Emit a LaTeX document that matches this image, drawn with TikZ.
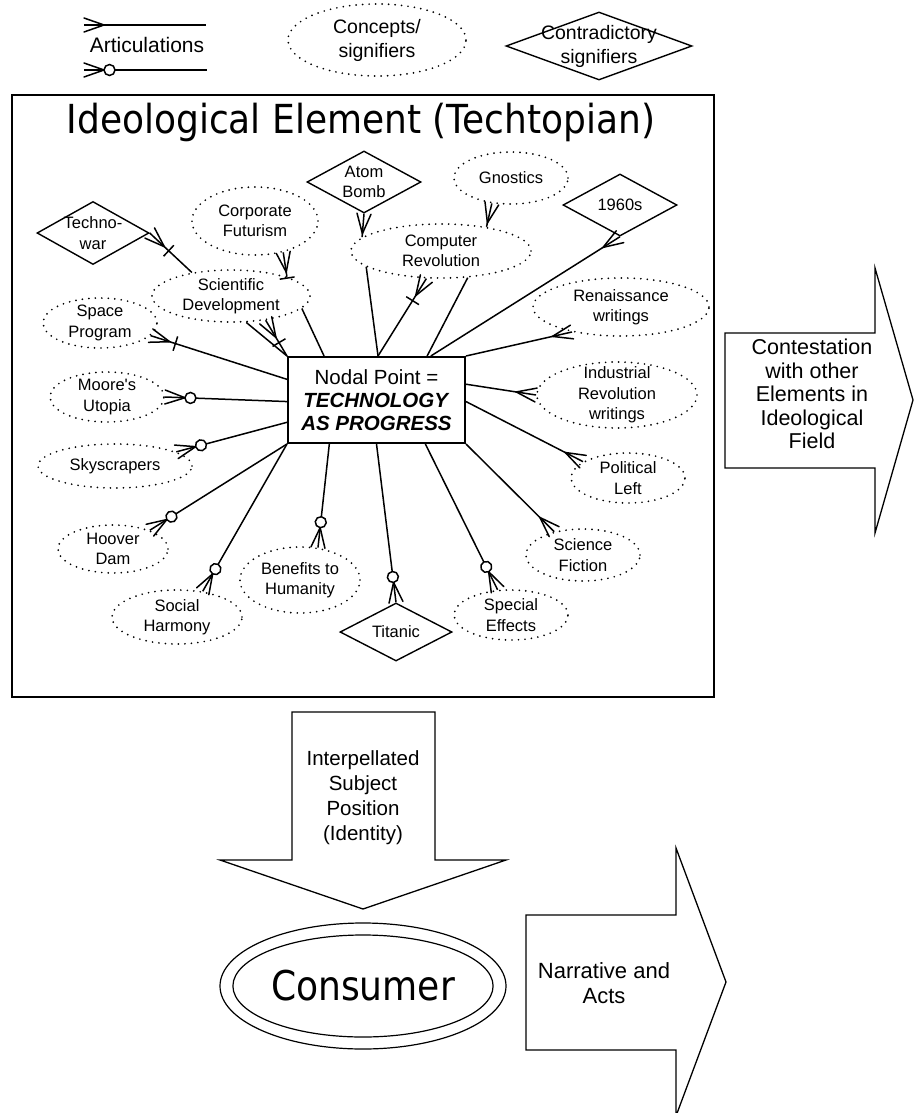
\documentclass[tikz,border=0pt]{standalone}
\usepackage{fontspec}
\setmainfont{Liberation Sans}
\newfontfamily\verafont{DejaVu Sans}
\usepackage{graphicx}
\usetikzlibrary{shapes, decorations.markings}

\tikzset{
  crow/.style={postaction={decorate, decoration={markings, mark=at position 0.0001 with {\draw[line cap=round] (0pt,7pt) -- (20pt,0pt) -- (0pt,-7pt);}}}},
  crowbar/.style={crow, postaction={decorate, decoration={markings, mark=at position 0.0001 with {\draw (26pt,7.5pt) -- (26pt,-7.5pt);}}}},
  crowring/.style={crow, postaction={decorate, decoration={markings, mark=at position 0.0001 with {\draw[fill=white] (25.5pt,0pt) circle (5.5pt);}}}},
}

\begin{document}
\begin{tikzpicture}[x=1pt, y=-1pt, line width=1.5pt]
\tikzstyle{concept}=[draw, ellipse, inner sep=0pt, line width=1.9pt, dash pattern=on 0pt off 6.5pt, line cap=round]
\tikzstyle{contra}=[draw, diamond, inner sep=0pt, line width=1.4pt]
\tikzstyle{lbl}=[align=center, font=\fontsize{16.5}{20.5}\selectfont]
\tikzstyle{leg}=[align=center, font=\fontsize{19.5}{24}\selectfont]
\tikzstyle{blocktext}=[align=center, font=\fontsize{21.5}{23.5}\selectfont]
\useasboundingbox (0,0) rectangle (914,1113);

% legend
\coordinate (arA1) at (84,25);
\coordinate (arB1) at (206,25);
\coordinate (arA2) at (84,70);
\coordinate (arB2) at (207,70);
\draw[crow] (arA1) -- (arB1);
\draw[crowring] (arA2) -- (arB2);
\node[font=\fontsize{21}{24}\selectfont] (artl) at (147,45) {Articulations};
\node[concept, minimum width=178, minimum height=72, label={[leg]center:Concepts/\\signifiers}] (legc) at (377,40) {};
\node[contra, minimum width=186, minimum height=68, label={[leg]center:Contradictory\\signifiers}] (legd) at (599,46) {};

% the element
\node[draw, minimum width=702, minimum height=602, inner sep=0pt] (frame) at (363,396) {};
\node (title) at (361,122) {\scalebox{0.9}[1]{\verafont\fontsize{40}{48}\selectfont Ideological Element (Techtopian)}};
\node[draw, line width=2pt, minimum width=177, minimum height=86, inner sep=0pt, align=center, font=\fontsize{20.5}{23.3}\selectfont] (nodal) at (376.5,400) {Nodal Point =\\\textbf{\textit{TECHNOLOGY}}\\\textbf{\textit{AS PROGRESS}}};

\node[contra, minimum width=112, minimum height=63, label={[lbl]center:Techno-\\war}] (tw) at (93,233) {};
\node[concept, minimum width=126, minimum height=68, label={[lbl]center:Corporate\\Futurism}] (cf) at (255,221) {};
\node[contra, minimum width=114, minimum height=62, label={[lbl]center:Atom\\Bomb}] (ab) at (364,182) {};
\node[concept, minimum width=114, minimum height=52, label={[lbl]center:Gnostics}] (gn) at (511,178) {};
\node[contra, minimum width=114, minimum height=62, label={[lbl]center:1960s}] (s60) at (620,205) {};
\node[concept, minimum width=180, minimum height=54, label={[lbl]center:Computer\\Revolution}] (cr) at (441,251) {};
\node[concept, minimum width=158, minimum height=52, label={[lbl]center:Scientific\\Development}] (sd) at (231,296) {};
\node[concept, minimum width=114, minimum height=50, label={[lbl]center:Space\\Program}] (sp) at (100,323) {};
\node[concept, minimum width=176, minimum height=58, label={[lbl]center:Renaissance\\writings}] (ren) at (621,307) {};
\node[concept, minimum width=114, minimum height=50, label={[lbl]center:Moore\textquotesingle s\\Utopia}] (mu) at (107,397) {};
\node[concept, minimum width=160, minimum height=66, label={[lbl]center:Industrial\\Revolution\\writings}] (ir) at (617,395) {};
\node[concept, minimum width=154, minimum height=44, label={[lbl]center:Skyscrapers}] (sk) at (115,466) {};
\node[concept, minimum width=114, minimum height=50, label={[lbl]center:Political\\Left}] (pl) at (628,478) {};
\node[concept, minimum width=110, minimum height=48, label={[lbl]center:Hoover\\Dam}] (hd) at (113,549) {};
\node[concept, minimum width=120, minimum height=66, label={[lbl]center:Benefits to\\Humanity}] (bh) at (300,580) {};
\node[concept, minimum width=114, minimum height=52, label={[lbl]center:Science\\Fiction}] (sf) at (583,555) {};
\node[concept, minimum width=130, minimum height=54, label={[lbl]center:Social\\Harmony}] (sh) at (177,617) {};
\node[contra, minimum width=112, minimum height=58, label={[lbl]center:Titanic}] (ti) at (396,632) {};
\node[concept, minimum width=114, minimum height=50, label={[lbl]center:Special\\Effects}] (se) at (511,615) {};

% articulations
\draw[crowbar] (tw.east) -- (sd.149);
\draw[crowbar] (cf.312) -- (sd.19);
\draw[crowbar] (sp.346) -- (nodal.167);
\draw[crowbar] (sd.325) -- (nodal.north west);
\draw (sd.300) -- (nodal.north west);
\draw (sd.350) -- (nodal.140);
\draw[crow] (ab.south) -- (cr.170);
\draw[crow] (gn.233) -- (cr.28);
\draw[crow] (s60.south) -- (nodal.39);
\draw[crow] (ren.207) -- (nodal.north east);
\draw[crowbar] (cr.242) -- (nodal.88);
\draw (cr.192) -- (nodal.88);
\draw (cr.315) -- (nodal.41);
\draw[crowring] (mu.east) -- (nodal.181);
\draw[crowring] (sk.13) -- (nodal.194);
\draw[crowring] (hd.27) -- (nodal.south west);
\draw[crowring] (sh.45) -- (nodal.south west);
\draw[crowring] (bh.61) -- (nodal.223);
\draw[crowring] (ti.north) -- (nodal.south);
\draw[crowring] (se.118) -- (nodal.318);
\draw[crow] (sf.141) -- (nodal.south east);
\draw[crow] (pl.160) -- (nodal.359);
\draw[crow] (ir.west) -- (nodal.10);

% block arrows
\draw[line width=1.3pt, line join=miter] (725,333) -- (875,333) -- (875,268) -- (913,400) -- (875,533) -- (875,468) -- (725,468) -- cycle;
\node[blocktext] (contest) at (812,394) {Contestation\\with other\\Elements in\\Ideological\\Field};
\draw[line width=1.3pt] (292,712) -- (435,712) -- (435,860) -- (506,860) -- (363,909) -- (220,860) -- (292,860) -- cycle;
\node[align=center, font=\fontsize{20.5}{25}\selectfont] (interp) at (363,798) {Interpellated\\Subject\\Position\\(Identity)};
\draw[line width=1.3pt] (526,915) -- (676,915) -- (676,848) -- (726,982) -- (676,1116) -- (676,1050) -- (526,1050) -- cycle;
\node[align=center, font=\fontsize{22}{25}\selectfont] (narr) at (604,983) {Narrative and\\Acts};

% consumer
\node[draw, ellipse, line width=1.2pt, minimum width=286, minimum height=126, inner sep=0pt] (cons) at (363,986) {};
\node[draw, ellipse, line width=1.2pt, minimum width=260, minimum height=102, inner sep=0pt] (consin) at (363,986) {\scalebox{0.88}[1]{\verafont\fontsize{41}{48}\selectfont Consumer}};
\end{tikzpicture}
\end{document}
